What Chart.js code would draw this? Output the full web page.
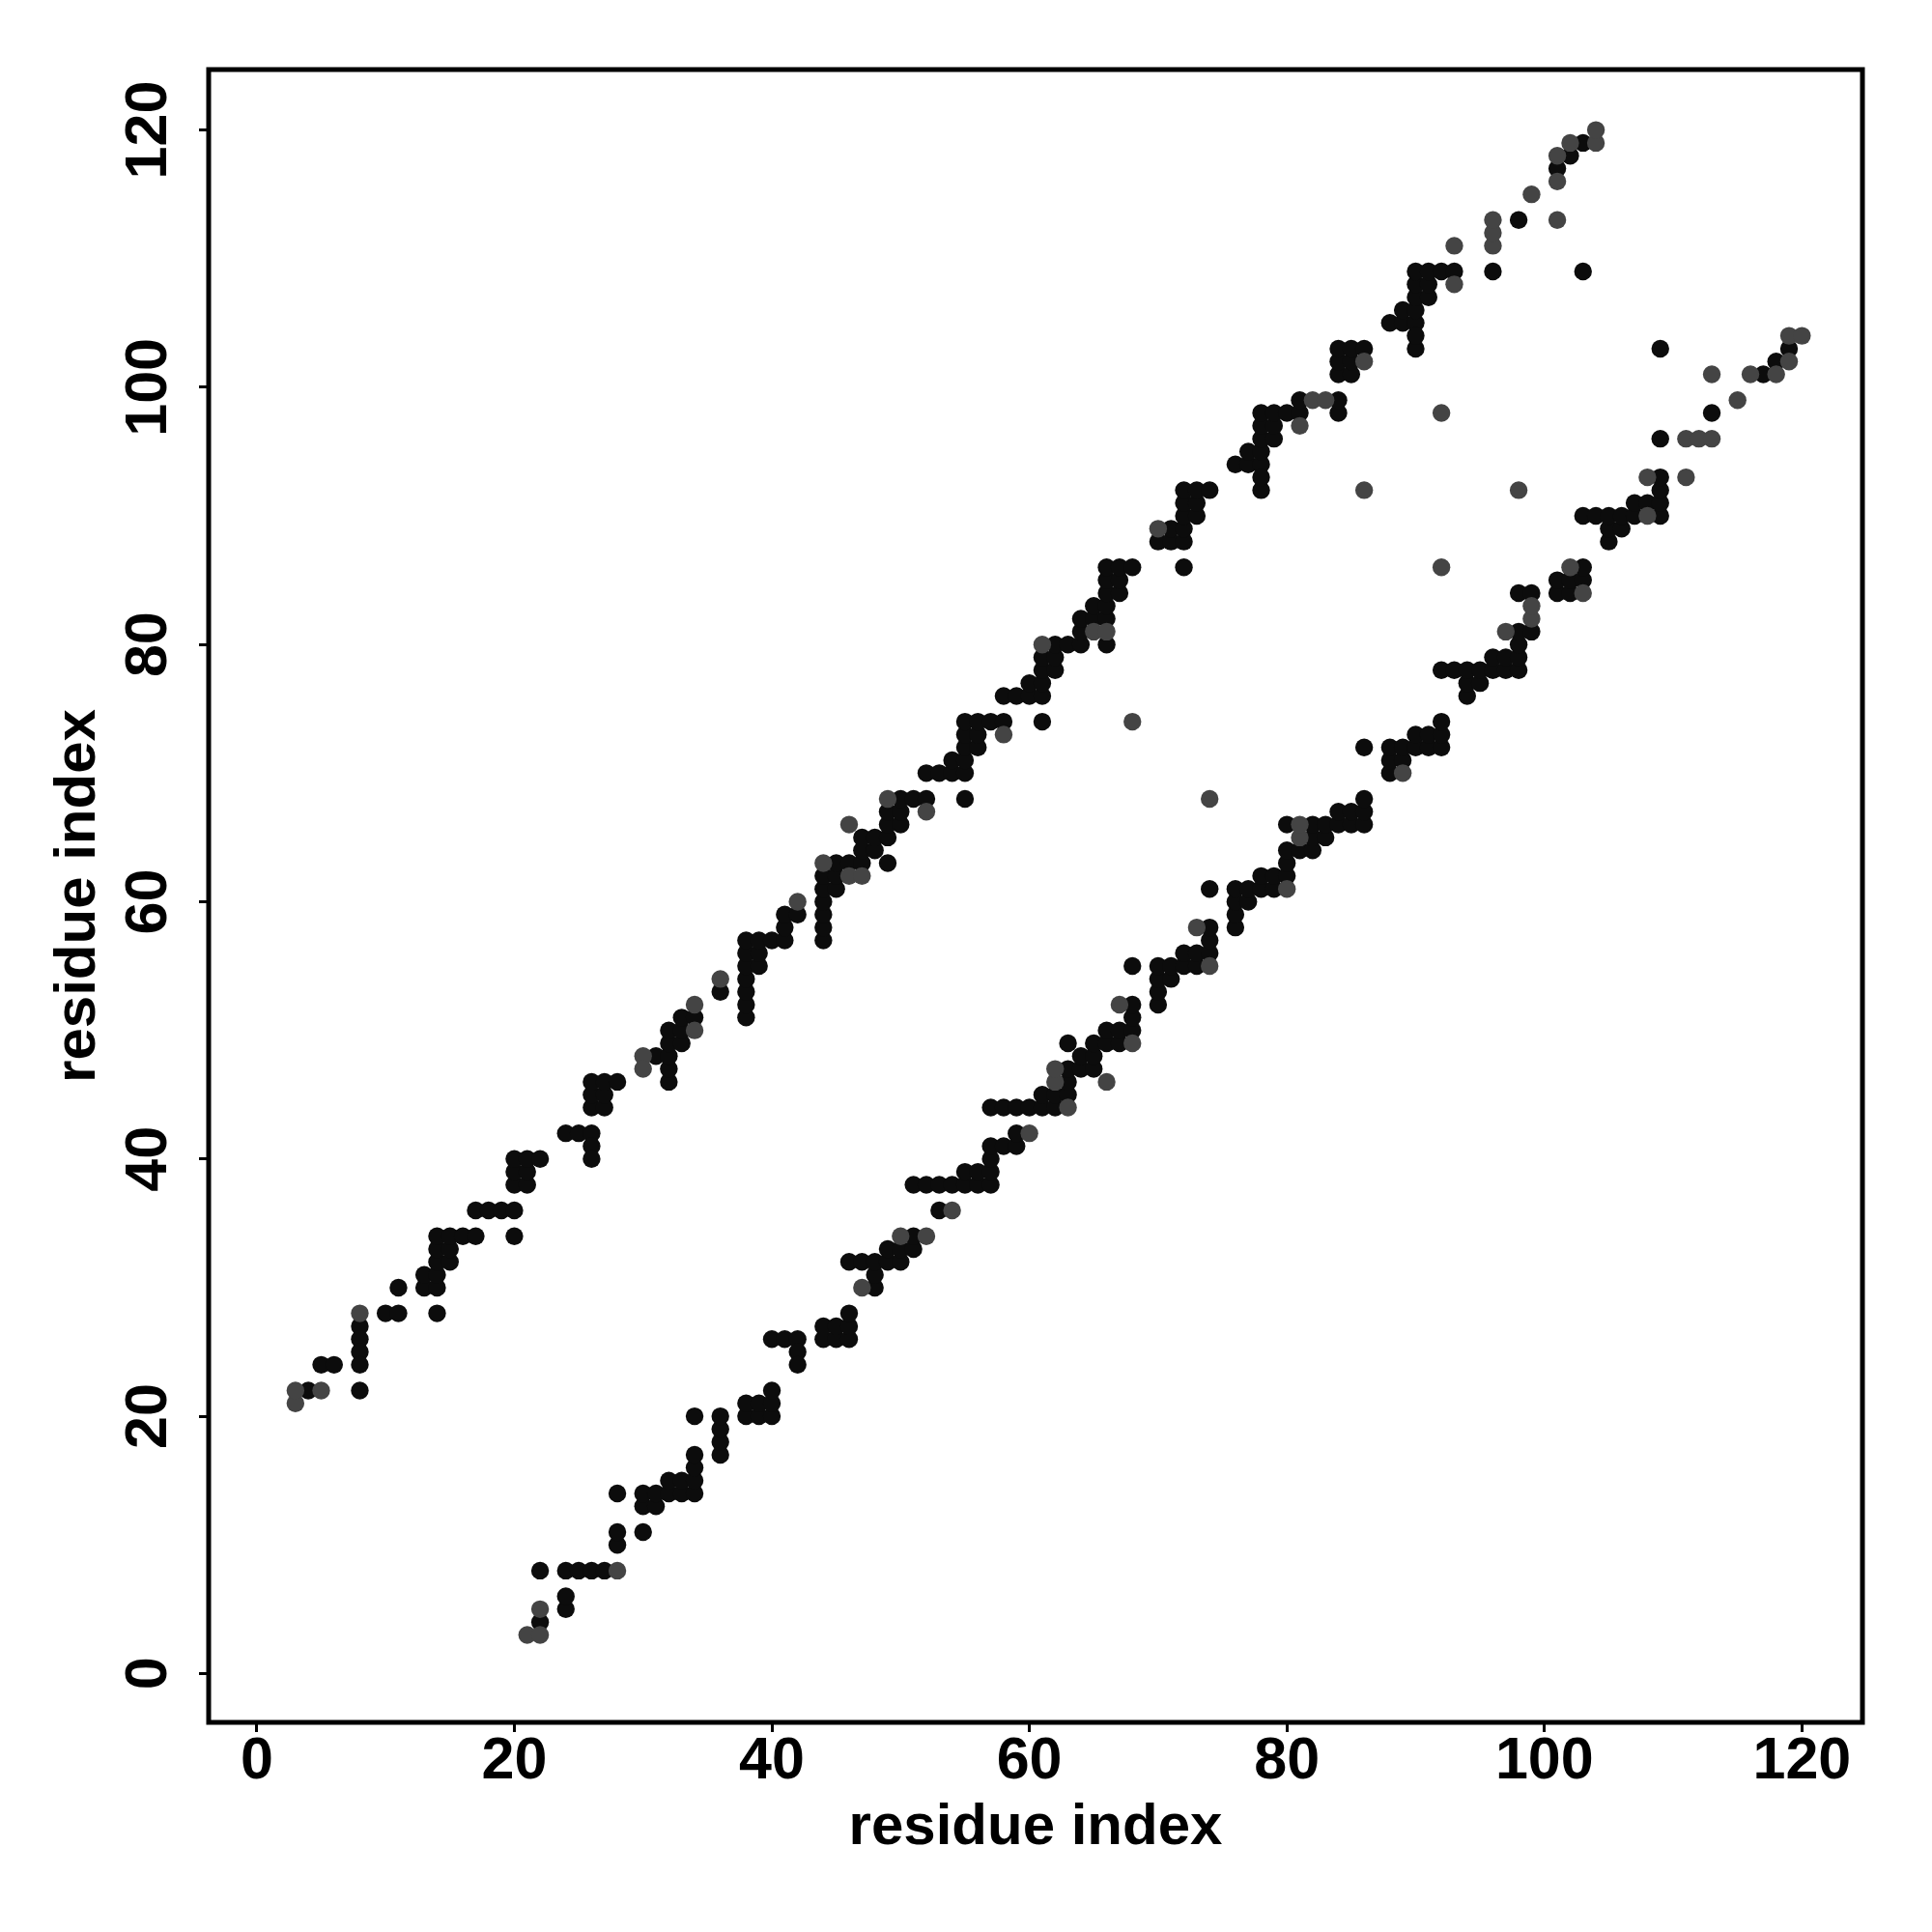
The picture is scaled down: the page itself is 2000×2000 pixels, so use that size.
<!DOCTYPE html>
<html>
<head>
<meta charset="utf-8">
<title>residue contacts</title>
<script src="https://cdn.jsdelivr.net/npm/chart.js@4.4.0/dist/chart.umd.min.js"></script>
<style>
  html, body { margin: 0; padding: 0; background: #fff; }
  canvas { display: block; }
</style>
</head>
<body>
<canvas id="contactChart" width="2000" height="2000"></canvas>
<script>
// [residue i, residue j] pairs, split by dot shade
const upperDark = [
  [4,22],[5,24],[6,24],[8,27],[8,26],[8,25],[8,24],[8,22],[10,28],[11,28],[11,30],[14,28],
  [13,30],[13,31],[14,30],[14,31],[14,32],[15,32],[14,33],[15,33],[14,34],[15,34],[16,34],[17,34],
  [17,36],[18,36],[19,36],[20,36],[20,34],[20,38],[20,39],[20,40],[21,38],[21,39],[21,40],[22,40],
  [24,42],[25,42],[26,42],[26,41],[26,40],[26,44],[26,45],[26,46],[27,44],[27,45],[27,46],[28,46],[31,48],
  [32,46],[32,47],[32,48],[32,49],[32,50],[33,49],[33,50],[33,51],[34,51],[36,53],
  [38,51],[38,52],[38,53],[38,54],[38,55],[38,56],[38,57],[39,55],[39,56],[39,57],[40,57],
  [41,57],[41,58],[41,59],[42,59],[44,57],[44,58],[44,59],[44,60],[44,61],[44,62],[45,61],[45,62],[45,63],
  [46,63],[47,63],[47,64],[47,65],[48,64],[48,65],[49,63],[49,65],[49,66],[49,67],[50,66],[50,67],[50,68],
  [51,68],[52,68],[52,70],[53,70],[54,70],[54,71],[55,68],[55,70],[55,71],[55,72],[55,73],[55,74],
  [56,72],[56,73],[56,74],[57,74],[58,74],[61,74],
  [58,76],[59,76],[60,76],[61,76],[60,77],[61,77],[61,78],[62,78],[61,79],[62,79],[62,80],[63,80],[64,80],
  [66,80],[64,81],[64,82],[65,82],[66,82],[65,83],[66,83],[66,84],[67,84],[66,85],[67,85],[66,86],[67,86],
  [68,86],[72,86],[70,88],[71,88],[72,88],[71,89],[72,89],[72,90],[73,90],[72,91],[73,91],[72,92],[73,92],
  [74,92],[76,94],[77,94],[78,94],[77,95],[78,95],[78,92],[78,93],[78,96],[79,96],[78,97],[79,97],
  [78,98],[79,98],[80,98],[81,98],[81,99],
  [84,98],[84,99],[84,101],[85,101],[84,102],[85,102],[84,103],[85,103],[86,103],[88,105],[89,105],[90,105],
  [89,106],[90,106],[90,103],[90,104],[90,107],[91,107],[90,108],[91,108],[90,109],[91,109],[92,109],[93,109],
  [96,109],[98,113],[103,109],[101,117],[102,118],[103,119]
];
const upperGrey = [
  [3,21],[3,22],[5,22],[8,28],[30,48],[30,47],[34,52],[34,50],[36,54],[42,60],[44,63],[46,62],[47,62],
  [46,66],[49,68],[52,67],[58,73],[68,74],[61,80],[65,81],[66,81],[70,89],[81,97],[82,99],[83,99],[86,92],
  [92,98],[86,102],[93,108],[93,111],[96,111],[96,112],[96,113],[99,115],[101,113],[101,116],[101,118],
  [102,119],[104,119],[104,120]
];
const lowerDark = [
  [22,4],[24,5],[24,6],[22,8],[24,8],[25,8],[26,8],[27,8],[28,10],[28,11],[30,11],[28,14],[30,13],[31,13],
  [30,14],[31,14],[32,14],[33,14],[34,14],[32,15],[33,15],[34,15],[34,16],[34,17],[34,20],[36,17],[36,18],
  [36,19],[36,20],[38,20],[39,20],[40,20],[38,21],[39,21],[40,21],[40,22],[40,26],[41,26],[42,26],[42,25],
  [42,24],[44,26],[45,26],[46,26],[44,27],[45,27],[46,27],[46,28],[46,32],
  [48,30],[48,31],[47,32],[48,32],[49,32],[50,32],[49,33],[50,33],[51,33],[51,34],[53,36],[51,38],[52,38],
  [53,38],[54,38],[55,38],[56,38],[57,38],[55,39],[56,39],[57,39],[57,40],[57,41],[58,41],[59,41],[59,42],
  [57,44],[58,44],[59,44],[60,44],[61,44],[62,44],[61,45],[62,45],[63,45],[63,46],[63,47],[64,47],[65,47],
  [64,48],[65,48],[63,49],[65,49],[66,49],[67,49],[66,50],[67,50],[68,50],[68,51],[68,52],[68,55],
  [70,52],[70,53],[70,54],[71,54],[70,55],[71,55],
  [72,55],[72,56],[73,55],[73,56],[74,56],[74,57],[74,58],[74,61],[76,58],[76,59],[76,60],[76,61],[77,60],
  [77,61],[78,61],[78,62],[79,61],[79,62],[80,62],[80,63],[80,64],[81,64],[82,64],[80,66],[82,65],[82,66],
  [83,65],[83,66],[84,66],[84,67],[85,66],[85,67],[86,66],[86,67],[86,68],[86,72],[88,70],[88,71],[88,72],
  [89,71],[89,72],[90,72],[90,73],[91,72],[91,73],[92,72],[92,73],[92,74],[92,78],[93,78],[94,76],[94,77],
  [94,78],[95,77],[95,78],[96,78],[96,79],[97,78],[97,79],[98,78],[98,79],[98,80],[98,81],[99,81],
  [98,84],[99,84],[101,84],[102,84],[101,85],[102,85],[103,85],[103,86],[105,88],[105,89],[106,89],[103,90],
  [104,90],[105,90],[106,90],[107,90],[109,90],[107,91],[108,91],[109,91],[109,92],[109,93],[109,96],
  [113,98],[109,103],[117,101],[118,102],[119,103]
];
const lowerGrey = [
  [21,3],[22,3],[22,5],[28,8],[47,30],[50,34],[52,34],[54,36],[60,42],[63,44],[62,46],[62,47],[66,46],
  [68,49],[67,52],[74,55],[73,58],[74,68],[80,61],[81,65],[81,66],[89,70],[97,81],[99,82],[99,83],[98,92],
  [92,86],[103,84],[102,86],[108,90],[108,93],[111,93],[111,96],[112,96],[113,96],[115,99],[113,101],
  [116,101],[118,101],[119,102],[119,104],[120,104]
];
const tickValues = [0, 20, 40, 60, 80, 100, 120];
const axisTitle = 'residue index';

const FONT = '"Liberation Sans", Arial, Helvetica, sans-serif';

function toPoints(pairs) {
  return pairs.map(p => ({ x: p[0], y: p[1] }));
}

// full frame around the plot + rotated y tick labels
const framePlugin = {
  id: 'frame',
  afterDraw(chart) {
    const ctx = chart.ctx;
    const a = chart.chartArea;
    ctx.save();
    ctx.strokeStyle = '#000';
    ctx.lineWidth = 5;
    ctx.strokeRect(a.left, a.top, a.right - a.left, a.bottom - a.top);

    const ys = chart.scales.y;
    ctx.fillStyle = '#000';
    ctx.font = 'bold 61px ' + FONT;
    ctx.textAlign = 'center';
    ctx.textBaseline = 'alphabetic';
    tickValues.forEach(v => {
      ctx.save();
      ctx.translate(172, ys.getPixelForValue(v));
      ctx.rotate(-Math.PI / 2);
      ctx.fillText(String(v), 0, 0);
      ctx.restore();
    });
    ctx.restore();
  }
};

const setTicks = scale => {
  scale.ticks = tickValues.map(v => ({ value: v }));
};

new Chart(document.getElementById('contactChart'), {
  type: 'scatter',
  data: {
    datasets: [
      { label: 'grey', data: toPoints(upperGrey.concat(lowerGrey)), backgroundColor: '#444444' },
      { label: 'dark', data: toPoints(upperDark.concat(lowerDark)), backgroundColor: '#0c0c0c' }
    ]
  },
  options: {
    responsive: false,
    devicePixelRatio: 1,
    animation: false,
    layout: { padding: { top: 72, right: 72, left: 0, bottom: 0 } },
    elements: { point: { radius: 9.2, borderWidth: 0, hoverRadius: 9.2 } },
    plugins: { legend: { display: false }, tooltip: { enabled: false } },
    scales: {
      x: {
        type: 'linear',
        position: 'bottom',
        min: -3.74,
        max: 124.7,
        afterBuildTicks: setTicks,
        afterFit: s => { s.height = 217; },
        grid: { drawOnChartArea: false, drawTicks: true, tickLength: 10, tickWidth: 3, tickColor: '#000' },
        border: { display: false },
        ticks: {
          color: '#000',
          font: { family: FONT, size: 61, weight: 'bold' },
          padding: -5,
          maxRotation: 0,
          autoSkip: false
        },
        title: {
          display: true,
          text: axisTitle,
          color: '#000',
          font: { family: FONT, size: 60, weight: 'bold' },
          padding: { top: 0, bottom: 72 }
        }
      },
      y: {
        type: 'linear',
        position: 'left',
        min: -3.8,
        max: 124.7,
        afterBuildTicks: setTicks,
        afterFit: s => { s.width = 216; },
        grid: { drawOnChartArea: false, drawTicks: true, tickLength: 10, tickWidth: 3, tickColor: '#000' },
        border: { display: false },
        ticks: { display: false },
        title: {
          display: true,
          text: axisTitle,
          color: '#000',
          font: { family: FONT, size: 60, weight: 'bold' },
          padding: { top: 45, bottom: 0 }
        }
      }
    }
  },
  plugins: [framePlugin]
});
</script>
</body>
</html>
